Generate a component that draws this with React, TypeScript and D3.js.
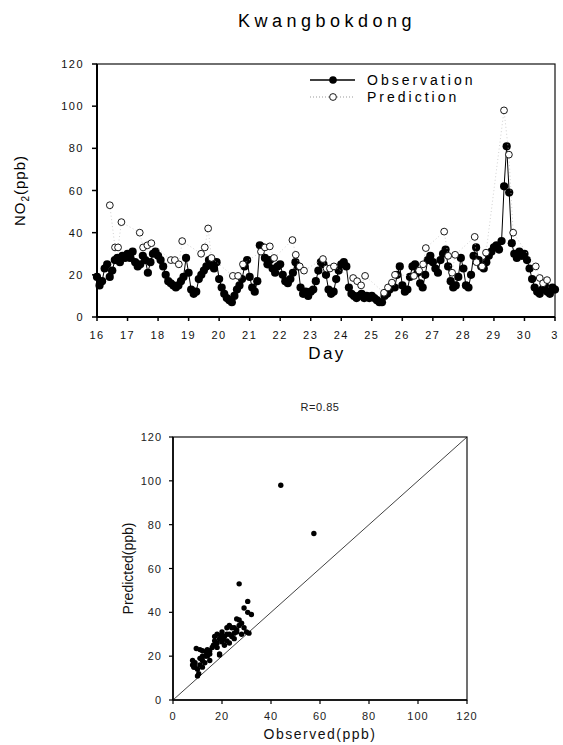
import React from "react";
import { scaleLinear, line } from "d3";

// observations, 12 samples a day (every 2 h) from day 16 to day 31
const obsStartDay = 16;
const obsPerDay = 12;
const observation = [
  19, 15, 17, 23, 25, 19, 22, 27, 28, 26, 29, 28,
  30, 28, 31, 26, 24, 25, 29, 27, 21, 26, 30, 31,
  29, 27, 24, 20, 17, 16, 15, 14, 15, 17, 19, 28,
  21, 13, 11, 12, 18, 20, 22, 24, 27, 25, 23, 26,
  18, 14, 11, 9, 8, 7, 10, 13, 15, 18, 24, 27,
  19, 14, 12, 17, 34, 33, 28, 25, 27, 23, 21, 24,
  25, 20, 17, 16, 18, 21, 26, 24, 14, 11, 12, 10,
  12, 13, 17, 22, 26, 25, 20, 13, 11, 12, 18, 22,
  25, 26, 24, 14, 11, 10, 9, 10, 11, 9, 10, 9,
  10, 9, 8, 7, 7, 10, 11, 13, 15, 14, 20, 24,
  15, 12, 13, 19, 24, 25, 21, 16, 14, 20, 27, 29,
  26, 23, 21, 27, 30, 32, 24, 17, 14, 15, 19, 28,
  23, 15, 14, 20, 29, 33, 27, 24, 23, 26, 29, 31,
  33, 34, 32, 36, 62, 81, 59, 35, 30, 28, 31, 29,
  30, 27, 23, 18, 14, 12, 11, 13, 15, 12, 11, 14,
  13,
];

const predictionDay = [
  16.42, 16.59, 16.69, 16.8,
  17.4, 17.51, 17.65, 17.78,
  18.42, 18.55, 18.68, 18.79,
  19.41, 19.53, 19.64, 19.75,
  20.45, 20.62, 20.78,
  21.37, 21.5, 21.66, 21.8,
  22.4, 22.51, 22.64, 22.78,
  23.4, 23.52, 23.63, 23.76,
  24.39, 24.52, 24.65, 24.78,
  25.4, 25.53, 25.66, 25.76,
  26.38, 26.55, 26.68, 26.77,
  27.37, 27.5, 27.63, 27.73,
  28.37, 28.43, 28.61, 28.74,
  29.33, 29.49, 29.63,
  30.37, 30.5, 30.61, 30.74,
];
const prediction = [
  53, 33, 33, 45,
  40, 33, 34, 35,
  27, 27, 25, 36,
  30, 33, 42, 28,
  19.5, 19.5, 25,
  31, 33, 33.5, 28,
  36.5, 29.5, 24, 22,
  27.5, 23, 23, 24,
  18.5, 17, 15, 19.5,
  11.5, 14, 16.3, 20,
  19.5, 22, 25, 32.7,
  40.5, 29, 21, 29.5,
  38, 26, 24, 30.5,
  98, 77, 40,
  24, 18.5, 16, 17.5,
];

const dayTicks = [16, 17, 18, 19, 20, 21, 22, 23, 24, 25, 26, 27, 28, 29, 30, 31];
const dayTickLabels = ["16", "17", "18", "19", "20", "21", "22", "23", "24", "25", "26", "27", "28", "29", "30", "3"];
const no2Ticks = [0, 20, 40, 60, 80, 100, 120];

const scatterObserved = [
  44, 57.5, 27, 30.5, 31, 29, 30.5, 32, 26, 27, 28, 25, 26, 27, 30, 22, 24, 23,
  20, 21, 22, 20.5, 18, 19, 19.5, 20, 16, 17, 16.5, 17.5, 18, 19, 19, 9.5, 11, 12,
  13, 14, 15, 11, 12, 8, 8, 9, 9, 10, 10, 10.5, 11, 12, 23, 24, 25, 26, 22, 21,
  15, 14, 13.5, 28, 29, 17, 18, 20, 13, 12, 25, 23, 8.5, 15,
];
const scatterPredicted = [
  98, 76, 53, 45, 30.5, 42, 40, 39, 37, 36.5, 35, 33, 32, 34, 31, 33, 33, 34,
  27, 29, 30, 28, 26, 28, 29.5, 26.5, 24, 27, 25, 26, 24, 20.5, 21, 23.5, 23, 22.5,
  20, 20, 21, 19, 20, 18, 16, 17, 15, 14, 11, 12, 16, 18, 30, 29, 30.5, 31, 27, 25,
  22.5, 23, 22, 30, 33, 29, 30, 31, 17, 15, 28, 26, 15, 18,
];
const scatterTicks = [0, 20, 40, 60, 80, 100, 120];

const font = "'Liberation Sans', Arial, sans-serif";

export default function App() {
  // time series panel
  const x = scaleLinear().domain([16, 31]).range([97, 555]);
  const y = scaleLinear().domain([0, 120]).range([317, 64]);
  const obsDay = (i: number) => obsStartDay + i / obsPerDay;

  const obsLine = line<number>()
    .x((d, i) => x(obsDay(i)))
    .y((d) => y(d));
  const predLine = line<number>()
    .x((d, i) => x(predictionDay[i]))
    .y((d) => y(d));

  // scatter panel
  const sx = scaleLinear().domain([0, 120]).range([173, 467]);
  const sy = scaleLinear().domain([0, 120]).range([700, 437]);

  return (
    <svg
      width={563}
      height={745}
      style={{ position: "absolute", left: 0, top: 0, background: "#fff" }}
      fontFamily={font}
    >
      <rect width={563} height={745} fill="#fff" />

      {/* title */}
      <text x={327} y={27} textAnchor="middle" fontSize={18} letterSpacing={4.5} fill="#000">
        Kwangbokdong
      </text>

      {/* frame */}
      <rect x={x(16)} y={y(120)} width={x(31) - x(16)} height={y(0) - y(120)} fill="none" stroke="#111" strokeWidth={1.2} />
      <line x1={x(16)} x2={x(16)} y1={y(120)} y2={y(0)} stroke="#000" strokeWidth={2} />
      <line x1={x(16)} x2={x(31)} y1={y(0)} y2={y(0)} stroke="#000" strokeWidth={2} />

      {/* y axis */}
      {no2Ticks.map((t) => (
        <g key={"yt" + t}>
          <line x1={x(16) - 5} x2={x(16)} y1={y(t)} y2={y(t)} stroke="#000" strokeWidth={1.5} />
          <text x={84} y={y(t) + 4} textAnchor="end" fontSize={11} letterSpacing={1.5} fill="#111">
            {t}
          </text>
        </g>
      ))}
      <text
        transform={`translate(25,${y(60)}) rotate(-90)`}
        textAnchor="middle"
        fontSize={15}
        letterSpacing={1}
        fill="#000"
      >
        NO
        <tspan fontSize={10} dy={4}>2</tspan>
        <tspan dy={-4}>(ppb)</tspan>
      </text>

      {/* x axis */}
      {dayTicks.map((d, i) => (
        <g key={"xt" + d}>
          <line x1={x(d)} x2={x(d)} y1={y(0)} y2={y(0) + 4} stroke="#000" strokeWidth={1.5} />
          <text x={x(d)} y={y(0) + 22} textAnchor="middle" fontSize={11} letterSpacing={1.5} fill="#111">
            {dayTickLabels[i]}
          </text>
        </g>
      ))}
      <text x={327} y={359} textAnchor="middle" fontSize={17} letterSpacing={2.5} fill="#000">
        Day
      </text>

      {/* observation */}
      <path d={obsLine(observation) || ""} fill="none" stroke="#000" strokeWidth={1} />
      {observation.map((v, i) => (
        <circle key={"o" + i} cx={x(obsDay(i))} cy={y(v)} r={4.1} fill="#000" />
      ))}

      {/* prediction */}
      <path d={predLine(prediction) || ""} fill="none" stroke="#bbb" strokeWidth={0.7} strokeDasharray="1,2.5" />
      {prediction.map((v, i) => (
        <circle key={"p" + i} cx={x(predictionDay[i])} cy={y(v)} r={3.4} fill="#fff" stroke="#000" strokeWidth={0.9} />
      ))}

      {/* legend */}
      <line x1={310} x2={355} y1={80} y2={80} stroke="#000" strokeWidth={1.5} />
      <circle cx={333} cy={80} r={3.8} fill="#000" />
      <text x={367} y={85} fontSize={14} letterSpacing={3} fill="#000">Observation</text>
      <line x1={310} x2={355} y1={97} y2={97} stroke="#999" strokeWidth={1} strokeDasharray="1,2" />
      <circle cx={333} cy={97} r={3.4} fill="#fff" stroke="#000" strokeWidth={0.9} />
      <text x={367} y={102} fontSize={14} letterSpacing={3} fill="#000">Prediction</text>

      {/* scatter panel */}
      <text x={320} y={411} textAnchor="middle" fontSize={11} letterSpacing={0.5} fill="#222">
        R=0.85
      </text>
      <rect x={sx(0)} y={sy(120)} width={sx(120) - sx(0)} height={sy(0) - sy(120)} fill="none" stroke="#111" strokeWidth={1.2} />
      <line x1={sx(0)} x2={sx(0)} y1={sy(120)} y2={sy(0)} stroke="#000" strokeWidth={1.6} />
      <line x1={sx(0)} x2={sx(120)} y1={sy(0)} y2={sy(0)} stroke="#000" strokeWidth={1.6} />
      <line x1={sx(0)} x2={sx(120)} y1={sy(0)} y2={sy(120)} stroke="#111" strokeWidth={0.8} />
      {scatterTicks.map((t) => (
        <g key={"st" + t}>
          <line x1={sx(0) - 4} x2={sx(0)} y1={sy(t)} y2={sy(t)} stroke="#000" strokeWidth={1.2} />
          <text x={162} y={sy(t) + 4} textAnchor="end" fontSize={11} letterSpacing={1} fill="#222">
            {t}
          </text>
          <line x1={sx(t)} x2={sx(t)} y1={sy(0)} y2={sy(0) + 4} stroke="#000" strokeWidth={1.2} />
          <text x={sx(t)} y={720} textAnchor="middle" fontSize={11} letterSpacing={1} fill="#222">
            {t}
          </text>
        </g>
      ))}
      {scatterObserved.map((v, i) => (
        <circle key={"s" + i} cx={sx(v)} cy={sy(scatterPredicted[i])} r={2.7} fill="#000" />
      ))}
      <text x={320} y={739} textAnchor="middle" fontSize={14} letterSpacing={1.5} fill="#111">
        Observed(ppb)
      </text>
      <text transform={`translate(133,${sy(60)}) rotate(-90)`} textAnchor="middle" fontSize={14} fill="#111">
        Predicted(ppb)
      </text>
    </svg>
  );
}
